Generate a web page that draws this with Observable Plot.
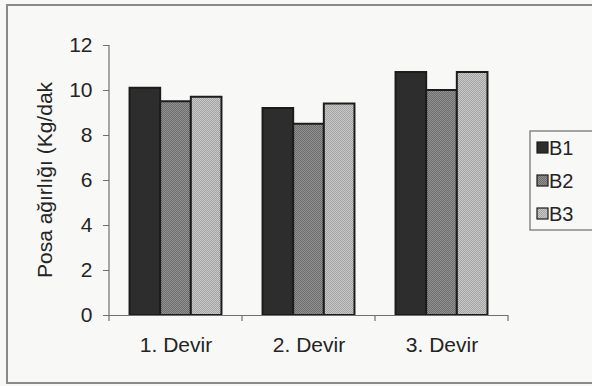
<!DOCTYPE html>
<html>
<head>
<meta charset="utf-8">
<script src="https://cdn.jsdelivr.net/npm/d3@7"></script>
<script src="https://cdn.jsdelivr.net/npm/@observablehq/plot@0.6"></script>
<style>
  html, body { margin: 0; padding: 0; background: #f8f8f6; }
  #chart { position: relative; width: 592px; height: 386px; overflow: hidden; }
</style>
</head>
<body>
<div id="chart"></div>
<script>
// Posa ağırlığı per devir, for the three series B1–B3
const devirler = ["1. Devir", "2. Devir", "3. Devir"];
const seriler = ["B1", "B2", "B3"];
const b1 = [10.1, 9.2, 10.8];
const b2 = [9.5, 8.5, 10.0];
const b3 = [9.7, 9.4, 10.8];
const yTicks = [0, 2, 4, 6, 8, 10, 12];
const yLabel = "Posa ağırlığı (Kg/dak";

// B1 solid dark, B2 and B3 dithered greys (pattern defs added below)
const fills = ["#2d2d2d", "url(#dither-b2)", "url(#dither-b3)"];

const rows = devirler.flatMap((devir, i) =>
  [b1, b2, b3].map((s, j) => ({ devir, seri: seriler[j], deger: s[i] }))
);

const font = "'Liberation Sans', Arial, sans-serif";
const fs = 21;

const plot = Plot.plot({
  width: 592,
  height: 386,
  marginLeft: 108,
  marginRight: 84,
  marginTop: 45,
  marginBottom: 71,
  style: { background: "transparent", fontFamily: font, color: "#242424", overflow: "visible" },
  fx: { domain: devirler, padding: 0 },
  x: { domain: seriler, paddingInner: 0, paddingOuter: 0.67, round: false, axis: null },
  y: { domain: [0, 12] },
  color: { domain: seriler, range: fills },
  marks: [
    Plot.barY(rows, {
      fx: "devir", x: "seri", y: "deger",
      fill: "seri", stroke: "#1c1c1c", strokeWidth: 2
    }),
    Plot.ruleY([0], { stroke: "#707070", strokeWidth: 1.2 }),
    Plot.axisY({
      ticks: yTicks, tickSize: 6, tickPadding: 11, fontSize: fs,
      stroke: "#707070", fill: "#242424", label: null
    }),
    Plot.axisFx({
      anchor: "bottom", tickSize: 0, tickPadding: 22, fontSize: fs,
      fill: "#242424", label: null
    })
  ]
});

document.getElementById("chart").appendChild(plot);

const svg = d3.select(plot);
const fx = plot.scale("fx");
const y = plot.scale("y");
const color = plot.scale("color");

// dither patterns for the lighter bars
const defs = svg.insert("defs", ":first-child");
function dither(id, base, dot) {
  const p = defs.append("pattern")
    .attr("id", id).attr("patternUnits", "userSpaceOnUse")
    .attr("width", 2).attr("height", 2);
  p.append("rect").attr("width", 2).attr("height", 2).attr("fill", base);
  p.append("rect").attr("width", 1).attr("height", 1).attr("fill", dot);
  p.append("rect").attr("x", 1).attr("y", 1).attr("width", 1).attr("height", 1).attr("fill", dot);
}
dither("dither-b2", "#939393", "#6c6c6c");
dither("dither-b3", "#c9c9c9", "#a3a3a3");

const y0 = y.apply(0);
const yTop = y.apply(12);
const xLeft = fx.apply(devirler[0]);

// vertical axis line
svg.append("line")
  .attr("x1", xLeft).attr("x2", xLeft)
  .attr("y1", yTop).attr("y2", y0)
  .attr("stroke", "#707070").attr("stroke-width", 1.2);

// rotated y-axis title
svg.append("text")
  .attr("transform", `translate(52, ${(yTop + y0) / 2}) rotate(-90)`)
  .attr("text-anchor", "middle")
  .attr("font-family", font).attr("font-size", fs).attr("fill", "#242424")
  .text(yLabel);

// category separator ticks below the baseline
const edges = devirler.map(d => fx.apply(d))
  .concat([fx.apply(devirler[devirler.length - 1]) + fx.bandwidth]);
svg.append("g").selectAll("line").data(edges).join("line")
  .attr("x1", d => d).attr("x2", d => d)
  .attr("y1", y0).attr("y2", y0 + 6)
  .attr("stroke", "#707070").attr("stroke-width", 1.2);

// legend box on the right
const lg = svg.append("g")
  .attr("font-family", font).attr("font-size", 20)
  .attr("fill", "#242424").attr("text-anchor", "start");
lg.append("rect")
  .attr("x", 530).attr("y", 131).attr("width", 70).attr("height", 99)
  .attr("fill", "none").attr("stroke", "#777").attr("stroke-width", 1.3);
const rowsL = lg.selectAll("g.entry").data(seriler).join("g")
  .attr("class", "entry")
  .attr("transform", (d, i) => `translate(537, ${148 + i * 33})`);
rowsL.append("rect")
  .attr("x", 0).attr("y", -6).attr("width", 11).attr("height", 11)
  .attr("fill", d => color.apply(d)).attr("stroke", "#1c1c1c").attr("stroke-width", 1.2);
rowsL.append("text")
  .attr("x", 12).attr("dy", "0.36em")
  .attr("text-anchor", "start")
  .text(d => d);

// outer chart border
svg.append("rect")
  .attr("x", 7).attr("y", 5).attr("width", 620).attr("height", 378)
  .attr("fill", "none").attr("stroke", "#8a8a8a").attr("stroke-width", 2);
</script>
</body>
</html>
